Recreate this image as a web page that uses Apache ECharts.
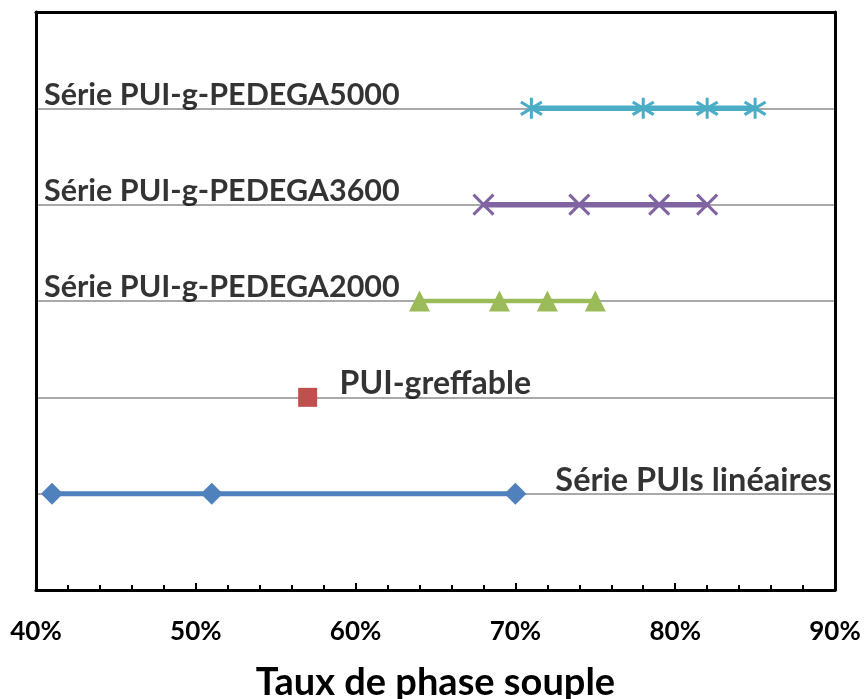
<!DOCTYPE html>
<html>
<head>
<meta charset="utf-8">
<script src="https://cdn.jsdelivr.net/npm/echarts@6/dist/echarts.min.js"></script>
<style>
html,body{margin:0;padding:0;background:#fff;}
#chart{width:864px;height:699px;}
</style>
</head>
<body>
<div id="chart"></div>
<script>
// Rows (y positions) of each series
const rows = [1, 2, 3, 4, 5];
const seriesNames = ['Série PUIs linéaires', 'PUI-greffable', 'Série PUI-g-PEDEGA2000', 'Série PUI-g-PEDEGA3600', 'Série PUI-g-PEDEGA5000'];
// Taux de phase souple (%) values
const lineaires = [41, 51, 70];
const greffable = [57];
const pedega2000 = [64, 69, 72, 75];
const pedega3600 = [68, 74, 79, 82];
const pedega5000 = [71, 78, 82, 85];
// Text label anchors (x in %)
const labelX = [72.5, 59, 40.5, 40.5, 40.5];
// X axis ticks
const xMin = 40, xMax = 90, xStep = 10;

// styles
const colors = ['#4F81BD', '#C0504D', '#9BBB59', '#8064A2', '#4BACC6'];
const labelFontSizes = [32.5, 32, 30.5, 30.5, 30.5];
const FONT = 'Lato';

function pts(vals, row) { return vals.map(v => [v, row]); }

const starPath = 'path://M10,0L10,20M0,4L20,16M0,16L20,4';
const xPath = 'path://M0,0L20,20M0,20L20,0';

const chart = echarts.init(document.getElementById('chart'), null, {renderer: 'canvas'});
chart.setOption({
  animation: false,
  backgroundColor: '#fff',
  grid: {left: 36, right: 29, top: 12, bottom: 109, containLabel: false, outerBoundsMode: 'none'},
  xAxis: [{
    type: 'value', min: xMin, max: xMax, interval: xStep, position: 'bottom',
    axisLine: {show: true, lineStyle: {color: '#000', width: 3}},
    axisTick: {show: true, inside: true, length: 7, lineStyle: {color: '#000', width: 2}},
    minorTick: {show: true, splitNumber: 5, length: 5, lineStyle: {color: '#000', width: 2}},
    splitLine: {show: false},
    axisLabel: {formatter: '{value}%', color: '#000', fontFamily: FONT, fontWeight: 'bold', fontSize: 26, margin: 29},
    name: 'Taux de phase souple', nameLocation: 'middle', nameGap: 74,
    nameTextStyle: {color: '#000', fontFamily: FONT, fontWeight: 'bold', fontSize: 38}
  }, {
    type: 'value', min: xMin, max: xMax, position: 'top',
    axisLine: {show: true, onZero: false, lineStyle: {color: '#000', width: 3}},
    axisTick: {show: false}, axisLabel: {show: false}, splitLine: {show: false}
  }],
  yAxis: [{
    type: 'value', min: 0, max: 6, interval: 1, position: 'left',
    axisLine: {show: true, onZero: false, lineStyle: {color: '#000', width: 3}},
    axisTick: {show: false}, axisLabel: {show: false},
    splitLine: {show: true, lineStyle: {color: ['rgba(0,0,0,0)', '#8C8C8C', '#8C8C8C', '#8C8C8C', '#8C8C8C', '#8C8C8C', 'rgba(0,0,0,0)'], width: 1.5}}
  }, {
    type: 'value', min: 0, max: 6, interval: 1, position: 'right',
    axisLine: {show: true, onZero: false, lineStyle: {color: '#000', width: 3}},
    axisTick: {show: false}, axisLabel: {show: false}, splitLine: {show: false}
  }],
  series: [
    {type: 'line', name: seriesNames[0], data: pts(lineaires, rows[0]), symbol: 'diamond', symbolSize: 22,
      lineStyle: {color: colors[0], width: 5}, itemStyle: {color: colors[0]}, z: 3},
    {type: 'line', name: seriesNames[1], data: pts(greffable, rows[1]), symbol: 'rect', symbolSize: 19,
      lineStyle: {color: colors[1], width: 5}, itemStyle: {color: colors[1]}, z: 3},
    {type: 'line', name: seriesNames[2], data: pts(pedega2000, rows[2]), symbol: 'triangle', symbolSize: 21,
      lineStyle: {color: colors[2], width: 4.5}, itemStyle: {color: colors[2]}, z: 3},
    {type: 'line', name: seriesNames[3], data: pts(pedega3600, rows[3]), symbol: xPath, symbolSize: 20,
      lineStyle: {color: colors[3], width: 5.5}, itemStyle: {color: 'rgba(0,0,0,0)', borderColor: colors[3], borderWidth: 3}, z: 3},
    {type: 'line', name: seriesNames[4], data: pts(pedega5000, rows[4]), symbol: starPath, symbolSize: 21,
      lineStyle: {color: colors[4], width: 5.5}, itemStyle: {color: 'rgba(0,0,0,0)', borderColor: colors[4], borderWidth: 3}, z: 3},
    {type: 'scatter', name: 'labels', symbolSize: 0, silent: true, z: 4,
      data: seriesNames.map((n, i) => ({value: [labelX[i], rows[i]], name: n, label: {fontSize: labelFontSizes[i]}})),
      label: {show: true, position: 'right', distance: 0, offset: [0, -13.5], formatter: p => p.name,
        color: '#000', fontFamily: FONT, fontWeight: 'bold', fontSize: 31}}
  ]
});
</script>
</body>
</html>
